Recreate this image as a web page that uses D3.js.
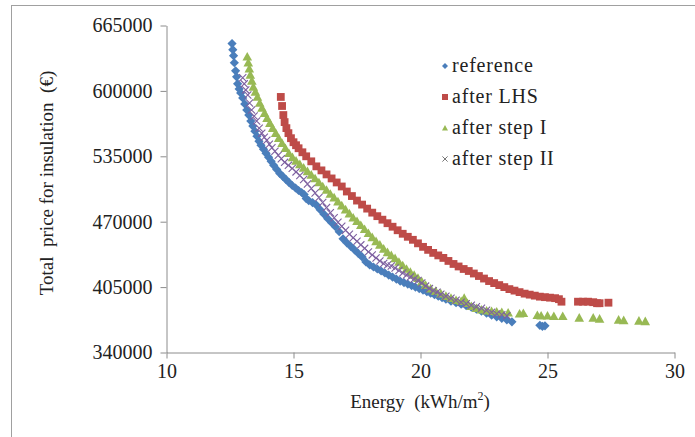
<!doctype html>
<html>
<head>
<meta charset="utf-8">
<title>Energy vs price</title>
<style>
  body { margin: 0; background: #fff; }
  svg { display: block; }
</style>
</head>
<body>
<svg width="695" height="437" font-family="Liberation Serif"></svg>
<script src="https://cdn.jsdelivr.net/npm/d3@7"></script>
<script>
// tick labels
var xTicks = [10, 15, 20, 25, 30];
var yTicks = [340000, 405000, 470000, 535000, 600000, 665000];

var seriesNames = ["reference", "after LHS", "after step I", "after step II"];
var seriesColors = ["#4a7ebb", "#be4b48", "#98b954", "#7d60a0"];

// [energy kWh/m2, total price €]
var reference = [
  [12.58, 647000], [12.61, 641000], [12.64, 635000], [12.67, 628000], [12.72, 620000],
  [12.76, 614000], [12.8, 607000], [12.86, 602000], [12.92, 598000], [13.0, 593000],
  [13.08, 587000], [13.16, 581000], [13.24, 576000], [13.32, 570000], [13.4, 565000],
  [13.48, 560000], [13.56, 555000], [13.64, 550000], [13.72, 546000], [13.82, 542000],
  [13.92, 538000], [14.02, 534000], [14.12, 530000], [14.22, 526000], [14.34, 522000],
  [14.46, 518000], [14.58, 515000], [14.7, 512000], [14.82, 509000], [14.95, 506000],
  [15.08, 503500], [15.2, 501000], [15.32, 499000], [15.42, 497000], [15.5, 493000],
  [15.6, 491000], [15.75, 489000], [15.9, 486500], [16.05, 482000], [16.2, 477500],
  [16.35, 473000], [16.5, 469000], [16.65, 465000], [16.8, 460000], [16.95, 453000],
  [17.1, 449000], [17.25, 445500], [17.4, 442000], [17.55, 438500], [17.7, 435000],
  [17.85, 430000], [18.0, 427000], [18.15, 425000], [18.3, 423000], [18.45, 421000],
  [18.6, 419000], [18.75, 417000], [18.9, 415000], [19.05, 413000], [19.2, 411000],
  [19.35, 409500], [19.5, 408000], [19.65, 406500], [19.8, 405000], [19.95, 403500],
  [20.1, 402000], [20.25, 400500], [20.4, 399000], [20.55, 397500], [20.7, 396000],
  [20.85, 394500], [21.0, 393000], [21.2, 391000], [21.4, 389500], [21.6, 388000],
  [21.8, 386500], [22.0, 385000], [22.2, 383000], [22.4, 381000], [22.6, 379000],
  [22.8, 377000], [23.0, 375500], [23.2, 374000], [23.4, 372500], [23.6, 370500],
  [24.7, 367000], [24.8, 366000], [24.9, 366500]
];

var afterLHS = [
  [14.5, 594000], [14.55, 585000], [14.6, 576000], [14.65, 569000], [14.72, 563000],
  [14.8, 558000], [14.9, 553000], [15.0, 549000], [15.1, 546000], [15.2, 543000],
  [15.35, 539000], [15.5, 535000], [15.7, 530000], [15.9, 525000], [16.1, 521000],
  [16.3, 517000], [16.5, 513000], [16.7, 509000], [16.9, 505000], [17.1, 500000],
  [17.3, 495500], [17.5, 491000], [17.7, 487000], [17.9, 483000], [18.1, 479000],
  [18.3, 475500], [18.5, 472000], [18.7, 468500], [18.9, 465000], [19.1, 461500],
  [19.3, 458000], [19.5, 455000], [19.7, 452000], [19.9, 448500], [20.1, 445000],
  [20.3, 442000], [20.5, 439000], [20.7, 436500], [20.9, 434000], [21.1, 431000],
  [21.3, 428000], [21.5, 425500], [21.7, 423000], [21.9, 421000], [22.1, 418500],
  [22.3, 416000], [22.5, 413500], [22.7, 411000], [22.9, 409000], [23.1, 407000],
  [23.3, 405000], [23.5, 403000], [23.7, 401500], [23.9, 400000], [24.1, 398500],
  [24.3, 397500], [24.5, 396500], [24.7, 395500], [24.9, 395000], [25.1, 394500],
  [25.3, 394000], [25.45, 393000], [25.55, 390500], [26.2, 390500], [26.4, 390500],
  [26.6, 390500], [26.8, 390000], [26.95, 389000], [27.05, 389000], [27.4, 389500]
];

var afterStepI = [
  [13.18, 634000], [13.22, 628000], [13.26, 622000], [13.3, 616000], [13.36, 610000],
  [13.42, 604000], [13.5, 599000], [13.58, 594000], [13.67, 588000], [13.76, 583000],
  [13.86, 578000], [13.96, 573000], [14.07, 568000], [14.18, 563000], [14.3, 558000],
  [14.42, 553000], [14.55, 548000], [14.68, 543000], [14.82, 538000], [14.96, 534000],
  [15.1, 530500], [15.25, 527000], [15.4, 523500], [15.55, 520000], [15.7, 516500],
  [15.85, 513000], [16.0, 509000], [16.15, 505000], [16.3, 501500], [16.45, 497500],
  [16.6, 494000], [16.75, 490000], [16.9, 486000], [17.05, 482000], [17.2, 478000],
  [17.35, 474000], [17.5, 470500], [17.65, 466500], [17.8, 462500], [17.95, 458500],
  [18.1, 454500], [18.25, 450500], [18.4, 447000], [18.55, 443000], [18.7, 439500],
  [18.85, 436500], [19.0, 433500], [19.15, 430000], [19.3, 426500], [19.45, 423000],
  [19.6, 420000], [19.75, 417000], [19.9, 414000], [20.05, 410500], [20.2, 407000],
  [20.4, 403500], [20.6, 401000], [20.8, 398500], [21.0, 396000], [21.2, 394000],
  [21.4, 392000], [21.6, 391000], [21.72, 394000], [21.85, 389000], [22.0, 386000],
  [22.2, 384000], [22.4, 382500], [22.6, 381500], [22.8, 381000], [23.0, 380500],
  [23.2, 380000], [23.45, 379500], [23.9, 378500], [24.05, 379000], [24.6, 377000],
  [24.75, 376500], [25.0, 376500], [25.25, 376000], [25.6, 376000], [26.25, 374500],
  [26.8, 374500], [27.05, 373500], [27.8, 372500], [28.0, 372000], [28.6, 371500],
  [28.85, 371000]
];

var afterStepII = [
  [13.0, 613000], [13.06, 607000], [13.12, 601000], [13.2, 596000], [13.27, 588000],
  [13.35, 581000], [13.45, 575000], [13.55, 570000], [13.65, 563000], [13.75, 558000],
  [13.85, 554000], [13.95, 551000], [14.05, 547000], [14.15, 543500], [14.27, 540000],
  [14.4, 536000], [14.52, 532500], [14.65, 529000], [14.8, 526000], [14.95, 523000],
  [15.1, 519500], [15.25, 516000], [15.4, 512000], [15.55, 507500], [15.7, 503000],
  [15.85, 498500], [16.0, 494000], [16.15, 489000], [16.3, 484000], [16.45, 479000],
  [16.6, 474000], [16.75, 469500], [16.9, 465500], [17.05, 461500], [17.2, 457500],
  [17.35, 454000], [17.5, 450500], [17.65, 447000], [17.8, 443500], [17.95, 440000],
  [18.1, 437000], [18.25, 434000], [18.4, 431000], [18.55, 428500], [18.7, 427000],
  [18.85, 426000], [19.0, 424000], [19.15, 421500], [19.3, 419000], [19.45, 417000],
  [19.6, 415000], [19.75, 413000], [19.9, 411500], [20.05, 409000], [20.2, 406000],
  [20.35, 403500], [20.5, 401500], [20.65, 400000], [20.8, 398000], [21.0, 396000],
  [21.2, 394000], [21.4, 392000], [21.6, 390000], [21.8, 388500], [22.0, 387000],
  [22.2, 385500], [22.4, 384000], [22.6, 382000], [22.8, 380000], [23.0, 378500],
  [23.2, 377500], [23.4, 376500]
];

var svg = d3.select("svg");
var serif = "Liberation Serif";

// outer chart frame (right and bottom edges fall outside the picture)
svg.append("rect")
    .attr("x", 11.5).attr("y", 5.5)
    .attr("width", 720).attr("height", 460)
    .attr("fill", "none")
    .attr("stroke", "#a0a0a0");

var x = d3.scaleLinear().domain([10, 30]).range([166.5, 674.5]);
var y = d3.scaleLinear().domain([340000, 665000]).range([352.5, 25.5]);

var xAxis = d3.axisBottom(x).tickValues(xTicks).tickSize(6).tickSizeOuter(0).tickPadding(5)
    .tickFormat(d3.format("d"));
var yAxis = d3.axisLeft(y).tickValues(yTicks).tickSize(6).tickSizeOuter(0).tickPadding(8)
    .tickFormat(d3.format("d"));

function styleAxis(g) {
  g.attr("font-family", serif).attr("font-size", 20);
  g.selectAll("path, line").attr("stroke", "#8c8c8c");
  g.selectAll("text").attr("fill", "#222").attr("font-family", serif);
}

svg.append("g")
    .attr("transform", "translate(0," + y(340000) + ")")
    .call(xAxis)
    .call(styleAxis);
svg.append("g")
    .attr("transform", "translate(" + x(10) + ",0)")
    .call(yAxis)
    .call(styleAxis);

// marker shapes
var shapes = [
  function(s) { return "M0," + (-s) + "L" + s + ",0L0," + s + "L" + (-s) + ",0Z"; },
  function(s) { return "M" + (-s) + "," + (-s) + "H" + s + "V" + s + "H" + (-s) + "Z"; },
  function(s) { return "M0," + (-s) + "L" + s + "," + (s * 0.8) + "H" + (-s) + "Z"; },
  function(s) { return "M" + (-s) + "," + (-s) + "L" + s + "," + s + "M" + s + "," + (-s) + "L" + (-s) + "," + s; }
];
var sizes = [4.6, 3.9, 4.8, 3.6];

function drawSeries(data, i) {
  var g = svg.append("g");
  g.selectAll("path")
    .data(data)
    .enter().append("path")
    .attr("transform", function(d) { return "translate(" + x(d[0]) + "," + y(d[1]) + ")"; })
    .attr("d", shapes[i](sizes[i]))
    .attr("fill", i === 3 ? "none" : seriesColors[i])
    .attr("stroke", i === 3 ? seriesColors[i] : "none")
    .attr("stroke-width", 1.1);
}

[reference, afterLHS, afterStepI, afterStepII].forEach(drawSeries);

// legend
var legend = svg.append("g");
seriesNames.forEach(function(name, i) {
  var ly = 66 + i * 31;
  legend.append("path")
    .attr("transform", "translate(445," + ly + ")")
    .attr("d", shapes[i](i === 3 ? 2.6 : 3))
    .attr("fill", i === 3 ? "none" : seriesColors[i])
    .attr("stroke", i === 3 ? "#777" : "none");
  legend.append("text")
    .attr("x", 452).attr("y", ly + 6)
    .attr("font-family", serif)
    .attr("font-size", 20)
    .attr("letter-spacing", 0.8)
    .attr("fill", "#222")
    .text(name);
});

// axis titles
var xt = svg.append("text")
    .attr("x", 420).attr("y", 408)
    .attr("text-anchor", "middle")
    .attr("font-family", serif)
    .attr("font-size", 19)
    .attr("fill", "#222");
xt.append("tspan").text("Energy\u00a0\u00a0(kWh/m");
xt.append("tspan").attr("font-size", 12).attr("dy", -8).text("2");
xt.append("tspan").attr("dy", 8).text(")");

svg.append("text")
    .attr("transform", "translate(53,183) rotate(-90)")
    .attr("text-anchor", "middle")
    .attr("font-family", serif)
    .attr("font-size", 19)
    .attr("fill", "#222")
    .text("Total\u00a0 price for insulation\u00a0\u00a0(\u20ac)");
</script>
</body>
</html>
